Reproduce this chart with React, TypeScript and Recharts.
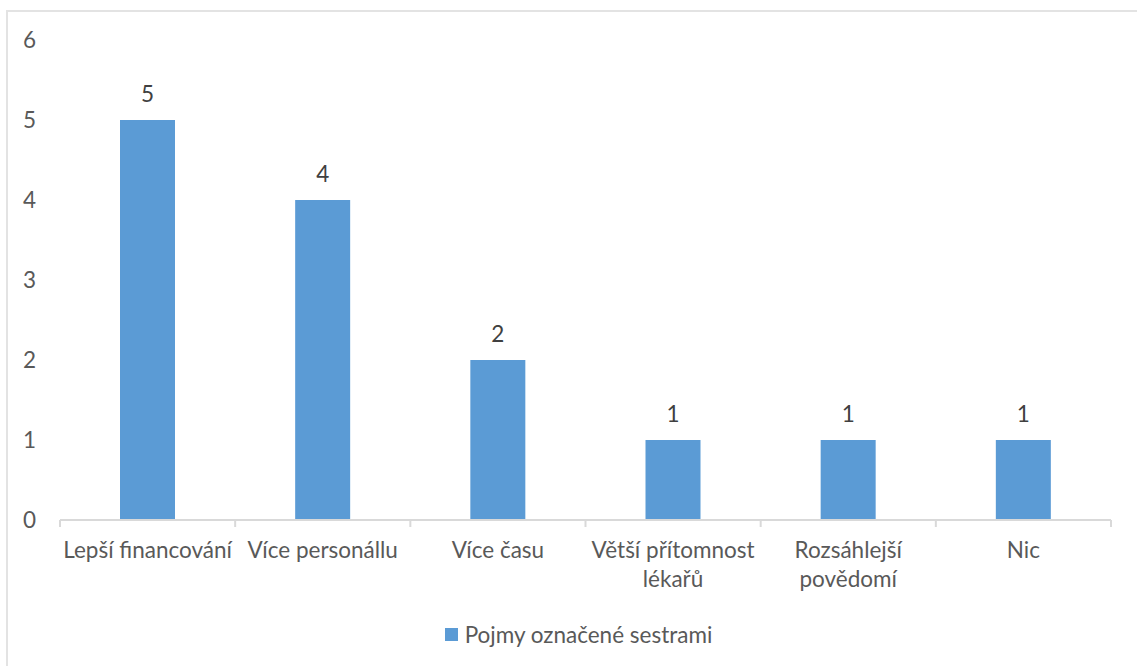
import React from 'react'
import { BarChart, Bar, XAxis, YAxis, LabelList, Legend } from 'recharts'

// '\n' marks where the reference wraps a category label
const categories = [
  'Lepší financování',
  'Více personállu',
  'Více času',
  'Větší přítomnost\nlékařů',
  'Rozsáhlejší\npovědomí',
  'Nic',
]
const values = [5, 4, 2, 1, 1, 1]
const yTicks = [0, 1, 2, 3, 4, 5, 6]
const seriesName = 'Pojmy označené sestrami'

const data = categories.map((name, i) => ({ name, value: values[i] }))

const FONT = 'Lato, "Open Sans", sans-serif'
const TEXT = '#595959'
const BAR = '#5B9BD5'
const AXIS = '#D9D9D9'
const FS = 22.5

const CHART_W = 1137
const M_LEFT = 60
const M_RIGHT = 26
const STEP = (CHART_W - M_LEFT - M_RIGHT) / categories.length

function CategoryTick(props: any) {
  const { x, y, payload, index } = props
  const lines = String(payload.value).split('\n')
  const axisY = y - 8
  return (
    <g>
      <line x1={x - STEP / 2} x2={x - STEP / 2} y1={axisY} y2={axisY + 7} stroke={AXIS} strokeWidth={2} />
      {index === categories.length - 1 && (
        <line x1={x + STEP / 2} x2={x + STEP / 2} y1={axisY} y2={axisY + 7} stroke={AXIS} strokeWidth={2} />
      )}
      <text x={x} y={axisY + 38} textAnchor="middle" fill={TEXT} style={{ fontFamily: FONT, fontSize: FS }}>
        {lines.map((l, i) => (
          <tspan key={i} x={x} dy={i === 0 ? 0 : 29}>{l}</tspan>
        ))}
      </text>
    </g>
  )
}

function LegendBox() {
  return (
    <div style={{ height: 56, display: 'flex', justifyContent: 'center', alignItems: 'center', paddingBottom: 8, paddingLeft: 46, boxSizing: 'border-box' }}>
      <span style={{ width: 13, height: 13, background: BAR, display: 'inline-block', marginRight: 7 }} />
      <span style={{ fontFamily: FONT, fontSize: FS, color: TEXT }}>{seriesName}</span>
    </div>
  )
}

export default function App() {
  return (
    <div style={{ position: 'absolute', left: 0, top: 0, width: 1137, height: 666, background: '#fff', overflow: 'hidden' }}>
      <div style={{ position: 'absolute', left: 6, top: 10, width: 1200, height: 700, borderTop: '2px solid #E3E3E3', borderLeft: '2px solid #E3E3E3' }} />
      <div style={{ position: 'absolute', left: 0, top: 0 }}>
        <BarChart width={CHART_W} height={666} data={data} margin={{ top: 40, right: M_RIGHT, bottom: 0, left: 0 }} barSize={55}>
          <XAxis
            dataKey="name"
            axisLine={{ stroke: AXIS, strokeWidth: 2 }}
            tickLine={false}
            tick={<CategoryTick />}
            interval={0}
            height={90}
          />
          <YAxis
            domain={[0, 6]}
            ticks={yTicks}
            width={M_LEFT}
            axisLine={false}
            tickLine={false}
            tickSize={0}
            tickMargin={24}
            tick={{ fill: TEXT, fontFamily: FONT, fontSize: FS }}
          />
          <Legend verticalAlign="bottom" height={56} content={<LegendBox />} />
          <Bar dataKey="value" name={seriesName} fill={BAR} isAnimationActive={false}>
            <LabelList dataKey="value" position="top" offset={18} fill="#404040" style={{ fontFamily: FONT, fontSize: FS }} />
          </Bar>
        </BarChart>
      </div>
    </div>
  )
}
